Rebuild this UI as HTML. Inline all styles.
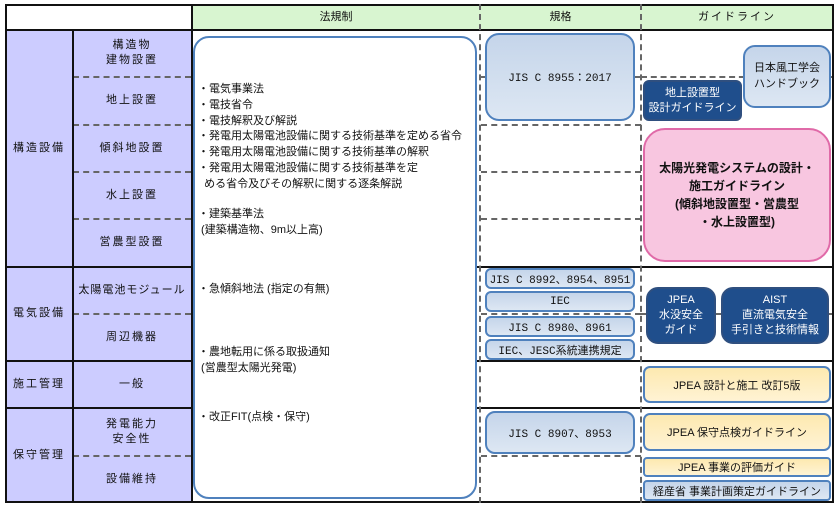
<!DOCTYPE html>
<html><head><meta charset="utf-8"><style>
*{margin:0;padding:0;box-sizing:border-box}
body{width:840px;height:511px;background:#fff;position:relative;overflow:hidden;font-family:"Liberation Sans","Noto Sans CJK JP",sans-serif;font-size:11px;color:#111}
.a{position:absolute}
.c{display:flex;align-items:center;justify-content:center;text-align:center;line-height:1.35}
.hl{position:absolute;height:0;border-top:2px solid #111}
.dl{position:absolute;height:0;border-top:2px dashed #666}
.vl{position:absolute;width:0;border-left:2px solid #111}
.vd{position:absolute;width:0;border-left:2px dashed #666}
.std{position:absolute;border:2px solid #4f81bd;border-radius:6px;background:linear-gradient(#c5d5ea,#dde7f3);display:flex;align-items:center;justify-content:center;text-align:center;font-family:"Liberation Mono","Noto Sans CJK JP",monospace;font-size:11px}
.dk{position:absolute;border:2px solid #2f4f7f;border-radius:12px;background:#1f4e8c;color:#fff;display:flex;align-items:center;justify-content:center;text-align:center;line-height:1.35}
.yl{position:absolute;border:2px solid #4f81bd;border-radius:7px;background:linear-gradient(#fde9b0,#fff3d4);display:flex;align-items:center;justify-content:center;text-align:center}
</style></head><body>
<div class="a" style="left:192px;top:5px;width:641px;height:24px;background:#d8f5d0"></div>
<div class="a" style="left:5px;top:29px;width:187px;height:473px;background:#ccccff"></div>
<div class="a c" style="left:192px;top:5px;width:288px;height:24px">法規制</div>
<div class="a c" style="left:480px;top:5px;width:161px;height:24px">規格</div>
<div class="a c" style="left:641px;top:5px;width:192px;height:24px;letter-spacing:2px">ガイドライン</div>
<div class="hl" style="left:5px;top:4px;width:829px"></div>
<div class="hl" style="left:5px;top:29px;width:829px"></div>
<div class="hl" style="left:5px;top:266px;width:829px"></div>
<div class="hl" style="left:5px;top:360px;width:829px"></div>
<div class="hl" style="left:5px;top:407px;width:829px"></div>
<div class="hl" style="left:5px;top:501px;width:829px"></div>
<div class="dl" style="left:73px;top:76px;width:118px"></div>
<div class="dl" style="left:73px;top:124px;width:118px"></div>
<div class="dl" style="left:73px;top:171px;width:118px"></div>
<div class="dl" style="left:73px;top:218px;width:118px"></div>
<div class="dl" style="left:73px;top:313px;width:118px"></div>
<div class="dl" style="left:73px;top:455px;width:118px"></div>
<div class="dl" style="left:481px;top:76px;width:160px"></div>
<div class="dl" style="left:481px;top:124px;width:160px"></div>
<div class="dl" style="left:481px;top:171px;width:160px"></div>
<div class="dl" style="left:481px;top:218px;width:160px"></div>
<div class="dl" style="left:481px;top:313px;width:160px"></div>
<div class="dl" style="left:481px;top:455px;width:160px"></div>
<div class="dl" style="left:641px;top:76px;width:192px"></div>
<div class="a" style="left:641px;top:313px;width:192px;border-top:2px solid #666"></div>
<div class="vl" style="left:5px;top:4px;height:499px"></div>
<div class="vl" style="left:72px;top:29px;height:473px"></div>
<div class="vl" style="left:191px;top:4px;height:499px"></div>
<div class="vd" style="left:479px;top:4px;height:499px"></div>
<div class="vd" style="left:640px;top:4px;height:499px"></div>
<div class="vl" style="left:832px;top:4px;height:499px"></div>
<div class="a c" style="left:6px;top:30px;width:66px;height:236px;letter-spacing:2px">構造設備</div>
<div class="a c" style="left:6px;top:267px;width:66px;height:93px;letter-spacing:2px">電気設備</div>
<div class="a c" style="left:6px;top:361px;width:66px;height:46px;letter-spacing:2px">施工管理</div>
<div class="a c" style="left:6px;top:408px;width:66px;height:94px;letter-spacing:2px">保守管理</div>
<div class="a c" style="left:73px;top:30px;width:118px;height:46px;letter-spacing:2px">構造物<br>建物設置</div>
<div class="a c" style="left:73px;top:77px;width:118px;height:47px;letter-spacing:2px">地上設置</div>
<div class="a c" style="left:73px;top:125px;width:118px;height:46px;letter-spacing:2px">傾斜地設置</div>
<div class="a c" style="left:73px;top:172px;width:118px;height:46px;letter-spacing:2px">水上設置</div>
<div class="a c" style="left:73px;top:219px;width:118px;height:47px;letter-spacing:2px">営農型設置</div>
<div class="a c" style="left:73px;top:267px;width:118px;height:46px;letter-spacing:1px">太陽電池モジュール</div>
<div class="a c" style="left:73px;top:314px;width:118px;height:46px;letter-spacing:2px">周辺機器</div>
<div class="a c" style="left:73px;top:361px;width:118px;height:46px;letter-spacing:2px">一般</div>
<div class="a c" style="left:73px;top:408px;width:118px;height:47px;letter-spacing:2px">発電能力<br>安全性</div>
<div class="a c" style="left:73px;top:456px;width:118px;height:46px;letter-spacing:2px">設備維持</div>
<div class="a" style="left:193px;top:36px;width:284px;height:463px;border:2px solid #4f81bd;border-radius:16px;background:#fff"></div>
<div class="a" style="left:198px;top:82px;line-height:15.8px;font-size:11px">
・電気事業法<br>・電技省令<br>・電技解釈及び解説<br>・発電用太陽電池設備に関する技術基準を定める省令<br>・発電用太陽電池設備に関する技術基準の解釈<br>・発電用太陽電池設備に関する技術基準を定<br>&nbsp;&nbsp;める省令及びその解釈に関する逐条解説</div>
<div class="a" style="left:198px;top:207px;line-height:15.8px">・建築基準法<br>&nbsp;(建築構造物、9m以上高)</div>
<div class="a" style="left:198px;top:282px;line-height:15.8px">・急傾斜地法 (指定の有無)</div>
<div class="a" style="left:198px;top:345px;line-height:15.8px">・農地転用に係る取扱通知<br>&nbsp;(営農型太陽光発電)</div>
<div class="a" style="left:198px;top:410px;line-height:15.8px">・改正FIT(点検・保守)</div>
<div class="std" style="left:485px;top:33px;width:150px;height:88px;border-radius:14px">JIS C 8955：2017</div>
<div class="std" style="left:485px;top:268px;width:150px;height:21px">JIS C 8992、8954、8951</div>
<div class="std" style="left:485px;top:291px;width:150px;height:21px">IEC</div>
<div class="std" style="left:485px;top:316px;width:150px;height:21px">JIS C 8980、8961</div>
<div class="std" style="left:485px;top:339px;width:150px;height:21px">IEC、JESC系統連携規定</div>
<div class="std" style="left:485px;top:411px;width:150px;height:43px;border-radius:10px">JIS C 8907、8953</div>
<div class="std" style="left:743px;top:45px;width:88px;height:63px;border-radius:12px;line-height:1.4;font-family:'Liberation Sans','Noto Sans CJK JP',sans-serif">日本風工学会<br>ハンドブック</div>
<div class="dk" style="left:643px;top:80px;width:99px;height:41px;border-radius:6px">地上設置型<br>設計ガイドライン</div>
<div class="a c" style="left:643px;top:128px;width:188px;height:134px;border:2px solid #e06aa8;border-radius:22px;background:#f8c6e0;font-weight:bold;font-size:12px;line-height:1.5">太陽光発電システムの設計・<br>施工ガイドライン<br>(傾斜地設置型・営農型<br>・水上設置型)</div>
<div class="dk" style="left:646px;top:287px;width:70px;height:57px">JPEA<br>水没安全<br>ガイド</div>
<div class="dk" style="left:721px;top:287px;width:108px;height:57px">AIST<br>直流電気安全<br>手引きと技術情報</div>
<div class="yl" style="left:643px;top:366px;width:188px;height:37px">JPEA 設計と施工 改訂5版</div>
<div class="yl" style="left:643px;top:413px;width:188px;height:38px">JPEA 保守点検ガイドライン</div>
<div class="yl" style="left:643px;top:457px;width:188px;height:20px;border-radius:4px">JPEA 事業の評価ガイド</div>
<div class="std" style="left:643px;top:480px;width:188px;height:21px;border-radius:4px;font-family:'Liberation Sans','Noto Sans CJK JP',sans-serif">経産省 事業計画策定ガイドライン</div>
</body></html>
